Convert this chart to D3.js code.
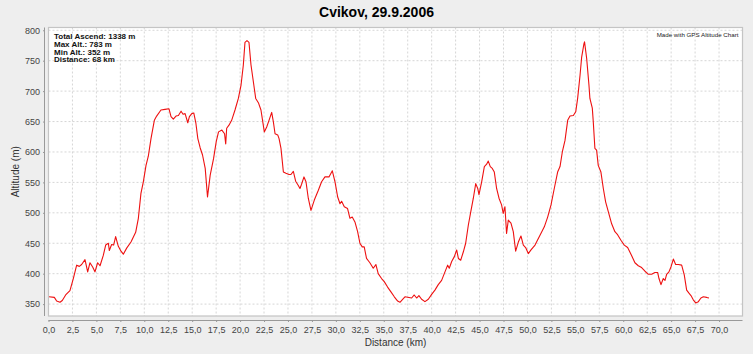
<!DOCTYPE html>
<html><head><meta charset="utf-8">
<script src="https://cdn.jsdelivr.net/npm/d3@7/dist/d3.min.js"></script>
<style>html,body{margin:0;padding:0;background:#eeeeee;}svg{display:block;}</style>
</head><body>
<svg id="chart" width="753" height="354"></svg>
<script>
const title = "Cvikov, 29.9.2006";
const statsLines = ["Total Ascend: 1338 m", "Max Alt.: 783 m", "Min Alt.: 352 m", "Distance: 68 km"];
const credit = "Made with GPS Altitude Chart";
const xTitle = "Distance (km)";
const yTitle = "Altitude (m)";
const xTicks = [0,2.5,5,7.5,10,12.5,15,17.5,20,22.5,25,27.5,30,32.5,35,37.5,40,42.5,45,47.5,50,52.5,55,57.5,60,62.5,65,67.5,70];
const yTicks = [350,400,450,500,550,600,650,700,750,800];
const distance = [0.05,0.61,0.85,1.20,1.44,1.79,2.24,2.59,2.94,3.22,3.46,3.81,4.09,4.33,4.61,4.85,5.13,5.38,5.72,5.97,6.25,6.35,6.59,6.80,7.01,7.29,7.57,7.81,8.16,8.61,9.10,9.38,9.65,9.90,10.18,10.42,10.70,11.05,11.29,11.74,12.16,12.58,12.79,13.03,13.31,13.56,13.84,14.05,14.26,14.54,14.71,14.96,15.17,15.38,15.59,15.83,16.08,16.36,16.60,16.88,17.23,17.51,17.75,18.10,18.38,18.50,18.60,18.84,19.12,19.47,19.82,20.10,20.34,20.51,20.72,20.93,21.14,21.39,21.63,21.91,22.18,22.53,22.78,23.02,23.30,23.47,23.65,23.93,24.07,24.27,24.52,24.79,25.11,25.31,25.56,25.80,26.08,26.25,26.42,26.67,26.88,27.12,27.40,27.75,28.17,28.51,28.86,29.28,29.63,29.91,30.19,30.43,30.60,30.88,31.22,31.47,31.71,31.99,32.27,32.51,32.75,32.96,33.20,33.55,33.90,34.18,34.42,34.77,35.05,35.40,35.75,36.10,36.45,36.69,37.04,37.21,37.91,38.18,38.43,38.67,38.95,39.30,39.65,40.00,40.34,40.69,41.04,41.39,41.67,41.84,42.09,42.37,42.61,42.79,43.03,43.31,43.55,43.83,44.11,44.35,44.60,44.81,44.94,45.22,45.50,45.74,45.91,46.12,46.33,46.54,46.78,47.03,47.30,47.47,47.65,47.82,48.00,48.28,48.52,48.77,49.05,49.32,49.57,49.81,50.09,50.37,50.79,51.31,51.76,52.11,52.46,52.80,53.15,53.40,53.64,53.92,54.20,54.44,54.79,55.04,55.24,55.49,55.66,55.90,55.96,56.18,56.42,56.52,56.77,56.87,57.04,57.22,57.39,57.67,57.92,58.16,58.44,58.79,59.13,59.41,59.76,60.11,60.46,60.87,61.22,61.57,61.92,62.27,62.62,62.96,63.31,63.59,63.73,63.94,64.18,64.36,64.53,64.77,64.98,65.23,65.47,65.75,66.10,66.37,66.62,66.86,67.07,67.31,67.56,67.84,68.11,68.36,68.71,68.95];
const altitude = [362,361,355,353,356,365,372,392,414,412,415,423,403,418,411,403,418,413,430,447,450,438,448,447,461,445,437,432,442,452,468,491,532,551,578,593,622,652,659,669,670,671,658,654,659,660,667,662,663,648,658,663,664,648,622,607,595,573,526,562,589,617,633,636,630,613,639,644,652,669,688,710,743,780,783,780,743,715,688,681,669,633,641,652,665,650,630,628,622,606,567,565,563,563,568,552,545,540,547,559,551,524,504,521,537,551,559,559,569,551,526,515,519,510,507,491,493,485,469,450,444,444,425,418,409,415,400,392,387,378,370,362,355,353,359,362,360,365,360,364,358,354,358,366,373,382,389,403,414,409,420,428,439,425,422,436,450,480,504,524,548,540,530,551,576,580,585,576,573,567,540,524,513,499,510,466,488,483,469,437,452,462,447,443,433,439,447,463,477,493,513,540,567,576,600,619,652,659,660,666,688,726,756,778,781,754,710,688,672,650,606,603,578,567,540,518,502,482,469,464,455,447,443,430,418,413,410,404,399,399,402,402,392,382,392,389,399,403,411,424,415,415,414,398,373,368,364,357,352,354,360,362,361,360];

const svg = d3.select("#chart");
const W = 753, H = 354;
const P = {left: 48.5, right: 742.5, top: 27.5, bottom: 316};
const FONT = "'Liberation Sans', Arial, sans-serif";

svg.append("rect").attr("width", W).attr("height", H).attr("fill", "#eeeeee");

const x = d3.scaleLinear().domain([0, 72.45]).range([P.left, P.right]);
const y = d3.scaleLinear().domain([330.45, 804.55]).range([P.bottom, P.top]);

// plot background
svg.append("rect").attr("x", P.left).attr("y", P.top)
  .attr("width", P.right - P.left).attr("height", P.bottom - P.top)
  .attr("fill", "#ffffff");

// grid
const grid = svg.append("g");
grid.selectAll(".gx").data(xTicks).enter().append("line")
  .attr("x1", d => x(d)).attr("x2", d => x(d))
  .attr("y1", P.top).attr("y2", P.bottom)
  .attr("stroke", "#d6d6d6").attr("stroke-width", 1).attr("stroke-dasharray", "2,2");
grid.selectAll(".gy").data(yTicks).enter().append("line")
  .attr("x1", P.left).attr("x2", P.right)
  .attr("y1", d => y(d)).attr("y2", d => y(d))
  .attr("stroke", "#d6d6d6").attr("stroke-width", 1).attr("stroke-dasharray", "2,2");

// line
const pts = distance.map((d, i) => [d, altitude[i]]);
const line = d3.line().x(d => x(d[0])).y(d => y(d[1]));
svg.append("path").datum(pts).attr("d", line)
  .attr("fill", "none").attr("stroke", "#ee1111").attr("stroke-width", 1.1)
  .attr("stroke-linejoin", "round");

// plot border
svg.append("rect").attr("x", P.left).attr("y", P.top)
  .attr("width", P.right - P.left).attr("height", P.bottom - P.top)
  .attr("fill", "none").attr("stroke", "#c4c4c4").attr("stroke-width", 1.2);

// axes
const xAxis = d3.axisBottom(x).tickValues(xTicks).tickSize(2).tickPadding(5)
  .tickFormat(d => d3.format(".1f")(d).replace(".", ","));
const gx = svg.append("g").attr("transform", `translate(0,320)`).call(xAxis);
gx.select(".domain").attr("stroke", "#999").attr("d", `M${P.left},0.5H${P.right}`);
gx.selectAll(".tick line").attr("stroke", "#999");
gx.selectAll("text").attr("font-family", FONT).attr("font-size", 9).attr("fill", "#444");

const yAxis = d3.axisLeft(y).tickValues(yTicks).tickSize(2).tickPadding(3)
  .tickFormat(d3.format("d"));
const gy = svg.append("g").attr("transform", `translate(45,0)`).call(yAxis);
gy.select(".domain").attr("stroke", "#999").attr("d", `M-0.5,${P.top}V${P.bottom}`);
gy.selectAll(".tick line").attr("stroke", "#999");
gy.selectAll("text").attr("font-family", FONT).attr("font-size", 9).attr("fill", "#444");

// titles
svg.append("text").attr("x", W / 2).attr("y", 17).attr("text-anchor", "middle")
  .attr("font-family", FONT).attr("font-size", 14).attr("font-weight", "bold")
  .attr("fill", "#000").text(title);

svg.append("text").attr("x", (P.left + P.right) / 2).attr("y", 345.5)
  .attr("text-anchor", "middle").attr("font-family", FONT).attr("font-size", 10)
  .attr("fill", "#333").text(xTitle);

svg.append("text").attr("transform", `translate(18.5,${(P.top + P.bottom) / 2}) rotate(-90)`)
  .attr("text-anchor", "middle").attr("font-family", FONT).attr("font-size", 10)
  .attr("fill", "#333").text(yTitle);

// stats annotation
svg.append("g").selectAll("text").data(statsLines).enter().append("text")
  .attr("x", 54).attr("y", (d, i) => 39 + i * 7.75)
  .attr("font-family", FONT).attr("font-size", 8).attr("font-weight", "bold")
  .attr("fill", "#111").text(d => d);

svg.append("text").attr("x", 738.5).attr("y", 37.2).attr("text-anchor", "end")
  .attr("font-family", FONT).attr("font-size", 6.2).attr("fill", "#222").text(credit);
</script>
</body></html>
